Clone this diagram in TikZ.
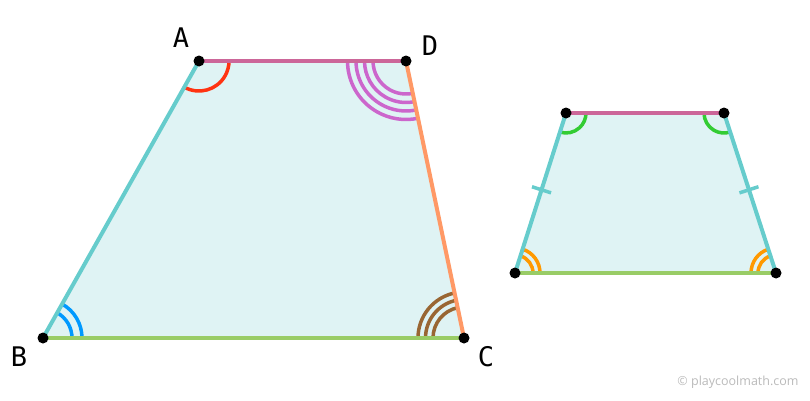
\documentclass[tikz,border=0pt]{standalone}
\usepackage{fontspec}
\setmonofont{DejaVu Sans Mono}
\newfontfamily\wmfont{Open Sans}
\usetikzlibrary{angles,calc}
\definecolor{fillc}{HTML}{DFF3F4}
\definecolor{tealc}{HTML}{66CCCC}
\definecolor{pinkc}{HTML}{CC6699}
\definecolor{orangec}{HTML}{FF9966}
\definecolor{greenc}{HTML}{99CC66}
\definecolor{redarc}{HTML}{FF3311}
\definecolor{magarc}{HTML}{CC66CC}
\definecolor{bluearc}{HTML}{0099FF}
\definecolor{brownarc}{HTML}{996633}
\definecolor{grnarc}{HTML}{33CC33}
\definecolor{orgarc}{HTML}{FF9900}
\begin{document}
\begin{tikzpicture}[x=1pt,y=1pt,
  edge/.style={line width=4pt},
  tickline/.style={line width=3.5pt},
  arcm/.style={line width=3.5pt},
  vdot/.style={circle,fill=black,inner sep=0pt,minimum size=11pt},
  lbl/.style={font=\ttfamily\fontsize{27}{27}\selectfont,inner sep=0pt}]
\useasboundingbox (0,0) rectangle (810,400);
% big trapezoid
\coordinate (A) at (199,339);
\coordinate (D) at (406,339);
\coordinate (B) at (43,62);
\coordinate (C) at (464,62);
% small trapezoid
\coordinate (P) at (566,287);
\coordinate (Q) at (724,287);
\coordinate (S) at (515,127);
\coordinate (R) at (776,127);
\fill[fillc] (A) -- (D) -- (C) -- (B) -- cycle;
\fill[fillc] (P) -- (Q) -- (R) -- (S) -- cycle;
% angle marks big
\pic[draw=redarc, arcm, angle radius=30pt] {angle = B--A--D};
\foreach \r in {33,41.5,50,58.5}
  \pic[draw=magarc, arcm, angle radius=\r pt] {angle = A--D--C};
\foreach \r in {29,39}
  \pic[draw=bluearc, arcm, angle radius=\r pt] {angle = C--B--A};
\foreach \r in {31,38.5,46}
  \pic[draw=brownarc, arcm, angle radius=\r pt] {angle = D--C--B};
% angle marks small
\pic[draw=grnarc, arcm, angle radius=20pt] {angle = S--P--Q};
\pic[draw=grnarc, arcm, angle radius=20pt] {angle = P--Q--R};
\foreach \r in {18,25}{
  \pic[draw=orgarc, arcm, angle radius=\r pt] {angle = R--S--P};
  \pic[draw=orgarc, arcm, angle radius=\r pt] {angle = Q--R--S};
}
% edges big
\draw[edge,pinkc] (A) -- (D);
\draw[edge,orangec] (D) -- (C);
\draw[edge,greenc] (B) -- (C);
\draw[edge,tealc] (A) -- (B);
% edges small
\draw[edge,pinkc] (P) -- (Q);
\draw[edge,greenc] (S) -- (R);
\draw[edge,tealc] (P) -- (S);
\draw[edge,tealc] (Q) -- (R);
% ticks
\coordinate (M1) at ($(P)!0.48!(S)$);
\coordinate (M2) at ($(Q)!0.48!(R)$);
\draw[tickline,tealc] ($(M1)!10pt!90:(S)$) -- ($(M1)!10pt!-90:(S)$);
\draw[tickline,tealc] ($(M2)!10pt!90:(R)$) -- ($(M2)!10pt!-90:(R)$);
% vertices
\foreach \v in {A,B,C,D,P,Q,R,S}
  \node[vdot] (dot\v) at (\v) {};
% labels
\node[lbl] (lA) at (181,362) {A};
\node[lbl] (lD) at (430,354) {D};
\node[lbl] (lB) at (19,43) {B};
\node[lbl] (lC) at (486,43) {C};
\node[font=\wmfont\fontsize{12.5}{12.5}\selectfont, text=black!27, inner sep=0pt] (wm) at (738,18) {© playcoolmath.com};
\end{tikzpicture}
\end{document}
